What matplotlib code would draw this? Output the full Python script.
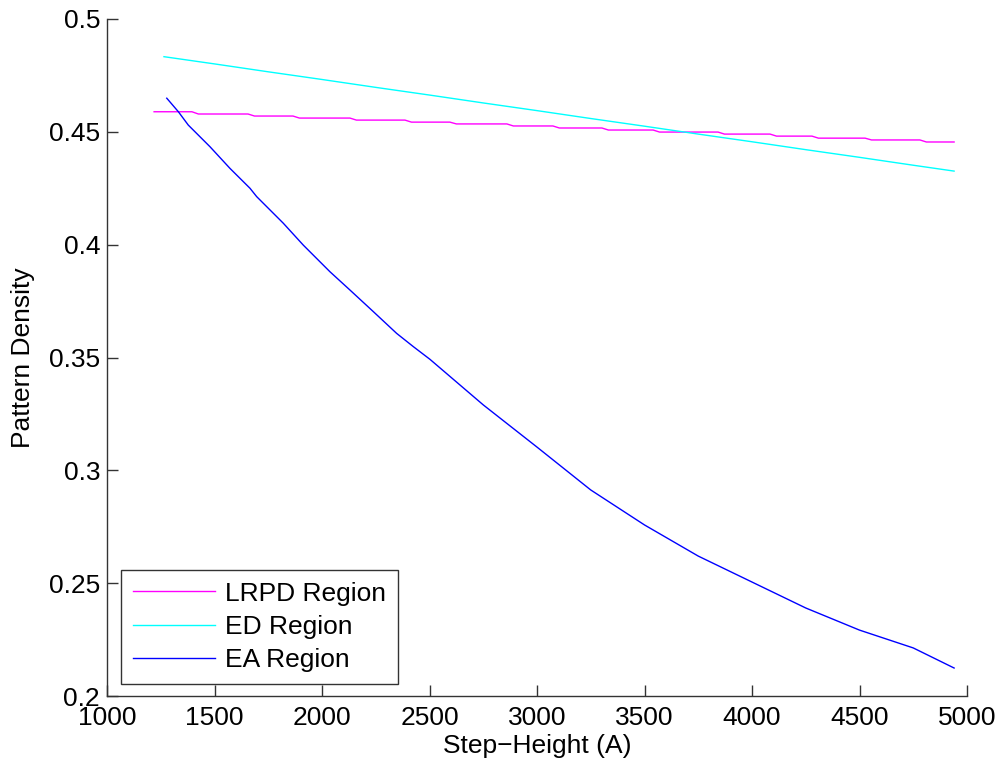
import numpy as np
import matplotlib.pyplot as plt

plt.rcParams['font.family'] = ['Liberation Sans', 'DejaVu Sans']

# LRPD region (small steps down)
lrpd_x = [1219, 1395, 1425, 1656, 1686, 1865, 1895, 2130, 2160, 2386, 2416, 2595, 2625,
          2860, 2890, 3074, 3104, 3302, 3332, 3540, 3570, 3842, 3872, 4084, 4114, 4279,
          4309, 4526, 4556, 4781, 4811, 4940]
lrpd_y = [0.4589, 0.4589, 0.4579, 0.4579, 0.4570, 0.4570, 0.4561, 0.4561, 0.4552, 0.4552,
          0.4543, 0.4543, 0.4535, 0.4535, 0.4526, 0.4526, 0.4517, 0.4517, 0.4508, 0.4508,
          0.4499, 0.4499, 0.4490, 0.4490, 0.4481, 0.4481, 0.4472, 0.4472, 0.4464, 0.4464,
          0.4455, 0.4455]

# ED region
ed_x = [1265, 1500, 1750, 2000, 2250, 2500, 2750, 3000, 3250, 3500, 3750, 4000, 4250,
        4500, 4750, 4940]
ed_y = [0.4833, 0.4801, 0.4766, 0.4732, 0.4697, 0.4663, 0.4628, 0.4594, 0.4559, 0.4525,
        0.4490, 0.4456, 0.4421, 0.4387, 0.4352, 0.4326]

# EA region
ea_x = [1278, 1332, 1378, 1479, 1572, 1665, 1696, 1820, 1913, 2037, 2130, 2239, 2347,
        2425, 2502, 2750, 3000, 3250, 3500, 3750, 4000, 4250, 4500, 4750, 4940]
ea_y = [0.4649, 0.4589, 0.4530, 0.4434, 0.4338, 0.4250, 0.4213, 0.4095, 0.3998, 0.3880,
        0.3799, 0.3703, 0.3607, 0.3548, 0.3492, 0.3290, 0.3103, 0.2913, 0.2758, 0.2620,
        0.2505, 0.2390, 0.2292, 0.2213, 0.2124]

fig = plt.figure(figsize=(10.02, 7.67), dpi=100)
ax = fig.add_axes([107 / 1002, 71 / 767, 860 / 1002, 677 / 767])

ax.plot(lrpd_x, lrpd_y, color='#ff00ff', lw=1.0, label='LRPD Region')
ax.plot(ed_x, ed_y, color='#00ffff', lw=1.0, label='ED Region')
ax.plot(ea_x, ea_y, color='#0000ff', lw=1.0, label='EA Region')

ax.set_xlim(1000, 5000)
ax.set_ylim(0.2, 0.5)
ax.set_xticks(np.arange(1000, 5001, 500))
ax.set_yticks([0.2, 0.25, 0.3, 0.35, 0.4, 0.45, 0.5])
ax.set_yticklabels(['0.2', '0.25', '0.3', '0.35', '0.4', '0.45', '0.5'])
ax.tick_params(direction='in', length=8, width=1, labelsize=19, labelcolor='black',
               color='#333333')
ax.tick_params(axis='x', pad=7)
ax.tick_params(axis='y', pad=5)
ax.spines['top'].set_visible(False)
ax.spines['right'].set_visible(False)
for s in ['left', 'bottom']:
    ax.spines[s].set_color('#333333')
    ax.spines[s].set_linewidth(1.0)

ax.set_xlabel('Step\u2212Height (A)', fontsize=19, labelpad=3)
ax.set_ylabel('Pattern Density', fontsize=19, labelpad=10)

leg = ax.legend(loc='lower left', bbox_to_anchor=(14 / 860, 12 / 677), fontsize=19,
                frameon=True, fancybox=False, edgecolor='black', handlelength=3.1,
                borderpad=0.45, labelspacing=0.35, handletextpad=0.4, borderaxespad=0)
leg.get_frame().set_linewidth(1.0)

fig.savefig('out.png', dpi=100)
